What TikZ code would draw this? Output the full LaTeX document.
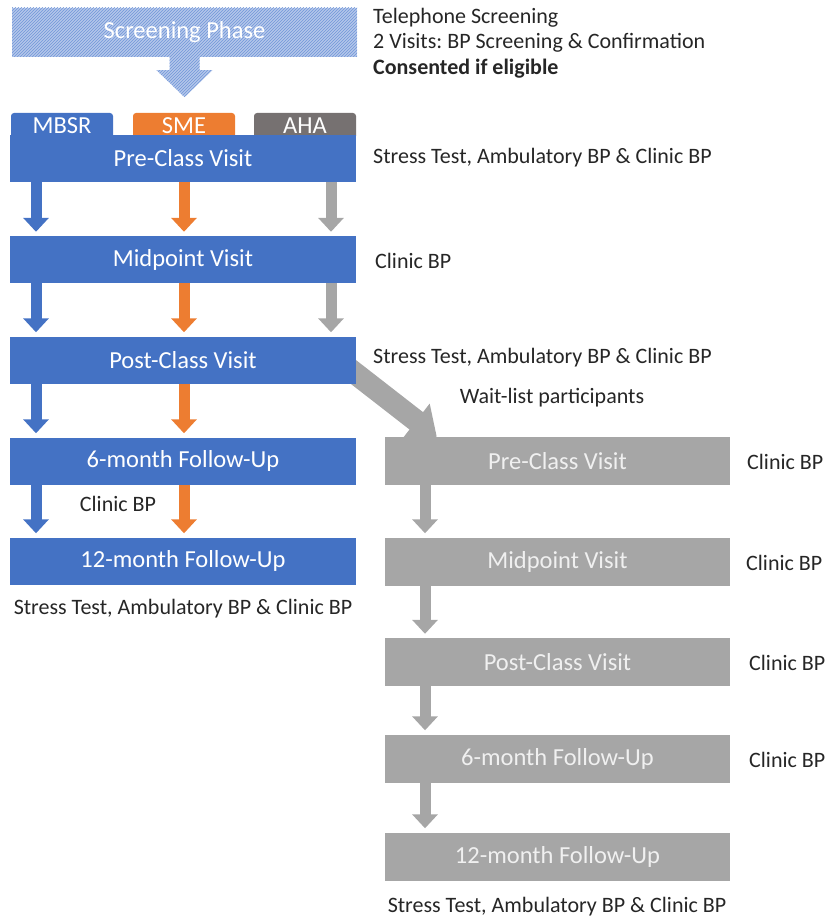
\documentclass[tikz,border=0pt]{standalone}
\usepackage{fontspec}
\setmainfont{Carlito}
\usepackage{tikz}
\usetikzlibrary{arrows.meta,calc,patterns,backgrounds}
\frenchspacing

\definecolor{mblue}{HTML}{4472C4}
\definecolor{morange}{HTML}{ED7D31}
\definecolor{mgray}{HTML}{A6A6A6}
\definecolor{mdark}{HTML}{767171}
\definecolor{hatchbg}{HTML}{B4C7EA}
\definecolor{hatchln}{HTML}{7096D8}
\definecolor{notetext}{HTML}{262626}

\tikzset{
  boxfont/.style={font=\fontsize{24.5}{29}\selectfont},
  notefont/.style={font=\fontsize{22}{25.5}\selectfont},
  hatch/.style={preaction={fill=hatchbg},pattern=north east lines,pattern color=hatchln},
  visitbox/.style={boxfont,text=white,minimum width=346pt,minimum height=47pt,inner sep=0pt},
  tab/.style={boxfont,text=white,rounded corners=3pt,minimum width=102pt,minimum height=26pt,inner sep=0pt},
  note/.style={notefont,text=notetext,inner sep=0pt},
  flow/.style={line width=11pt,-{Triangle[width=25pt,length=14pt]},shorten >=4pt}
}

\begin{document}
\begin{tikzpicture}[x=1pt,y=-1pt]
  \useasboundingbox (0,0) rectangle (827,920);

  % screening phase
  \node[hatch,boxfont,text=white,minimum width=345pt,minimum height=49pt,inner sep=0pt] (screen) at (184.5,32.5) {Screening Phase};
  \path[hatch] ($(screen.south)+(-15,0)$) -- ($(screen.south)+(15,0)$) -- ($(screen.south)+(15,13)$)
    -- ($(screen.south)+(28,13)$) -- ($(screen.south)+(0,40)$) -- ($(screen.south)+(-28,13)$)
    -- ($(screen.south)+(-15,13)$) -- cycle;

  % arm tabs
  \node[tab,fill=mblue] (mbsr) at (62,126) {MBSR};
  \node[tab,fill=morange] (sme) at (184,126) {SME};
  \node[tab,fill=mdark] (aha) at (305,126) {AHA};

  % columns of the arrows
  \coordinate (cb) at (36,0);
  \coordinate (co) at (184,0);
  \coordinate (cg) at (331,0);
  \coordinate (cw) at (425,0);
  \coordinate (wstart) at (338,360);

  \begin{scope}[every node/.style={visitbox,fill=mblue}]
    % class arms
    \node (pre) at (183,158.5) {Pre-Class Visit};
    \node (mid) at (183,259.5) {Midpoint Visit};
    \node (post) at (183,360) {Post-Class Visit};
    \node (six) at (183,461) {6-month Follow-Up};
    \node (twelve) at (183,561) {12-month Follow-Up};
  \end{scope}

  \begin{scope}[every node/.style={visitbox,fill=mgray,text=white!94!black,minimum width=345pt,minimum height=48pt}]
    % wait-list participants
    \node (wpre) at (557.5,461) {Pre-Class Visit};
    \node (wmid) at (557.5,561.5) {Midpoint Visit};
    \node (wpost) at (557.5,662) {Post-Class Visit};
    \node (wsix) at (557.5,758.5) {6-month Follow-Up};
    \node (wtwelve) at (557.5,856.5) {12-month Follow-Up};
  \end{scope}

  % transfer to the wait list, behind the boxes
  \begin{scope}[on background layer]
    \draw[line width=22pt,mgray,-{Triangle[width=42pt,length=26pt]}] (wstart) -- ($(wpre.north west)+(52,0)$);
  \end{scope}

  \begin{scope}[every edge/.style={draw,flow}]
    \path[mblue] (pre.south -| cb) edge (mid.north -| cb);
    \path[morange] (pre.south -| co) edge (mid.north -| co);
    \path[mgray] (pre.south -| cg) edge (mid.north -| cg);

    \path[mblue] (mid.south -| cb) edge (post.north -| cb);
    \path[morange] (mid.south -| co) edge (post.north -| co);
    \path[mgray] (mid.south -| cg) edge (post.north -| cg);

    \path[mblue] (post.south -| cb) edge (six.north -| cb);
    \path[morange] (post.south -| co) edge (six.north -| co);

    \path[mblue] (six.south -| cb) edge (twelve.north -| cb);
    \path[morange] (six.south -| co) edge (twelve.north -| co);

    \path[mgray] (wpre.south -| cw) edge (wmid.north -| cw);
    \path[mgray] (wmid.south -| cw) edge (wpost.north -| cw);
    \path[mgray] (wpost.south -| cw) edge (wsix.north -| cw);
    \path[mgray] (wsix.south -| cw) edge (wtwelve.north -| cw);
  \end{scope}

  % notes
  \node[note,anchor=west,align=left] (nscreen) at (373,43) {Telephone Screening\\2 Visits: BP Screening \& Confirmation\\\textbf{Consented if eligible}};
  \node[note,anchor=west] (npre) at (373,158) {Stress Test, Ambulatory BP \& Clinic BP};
  \node[note,anchor=west] (nmid) at (375,261) {Clinic BP};
  \node[note,anchor=west] (npost) at (373,358) {Stress Test, Ambulatory BP \& Clinic BP};
  \node[note] (nwait) at (552,398) {Wait-list participants};
  \node[note] (nsix) at (118,504) {Clinic BP};
  \node[note] (ntwelve) at (183,609) {Stress Test, Ambulatory BP \& Clinic BP};
  \node[note,anchor=west] (nwpre) at (747,462) {Clinic BP};
  \node[note,anchor=west] (nwmid) at (746,563) {Clinic BP};
  \node[note,anchor=west] (nwpost) at (749,663) {Clinic BP};
  \node[note,anchor=west] (nwsix) at (749,760) {Clinic BP};
  \node[note] (nwtwelve) at (557,907) {Stress Test, Ambulatory BP \& Clinic BP};
\end{tikzpicture}
\end{document}
